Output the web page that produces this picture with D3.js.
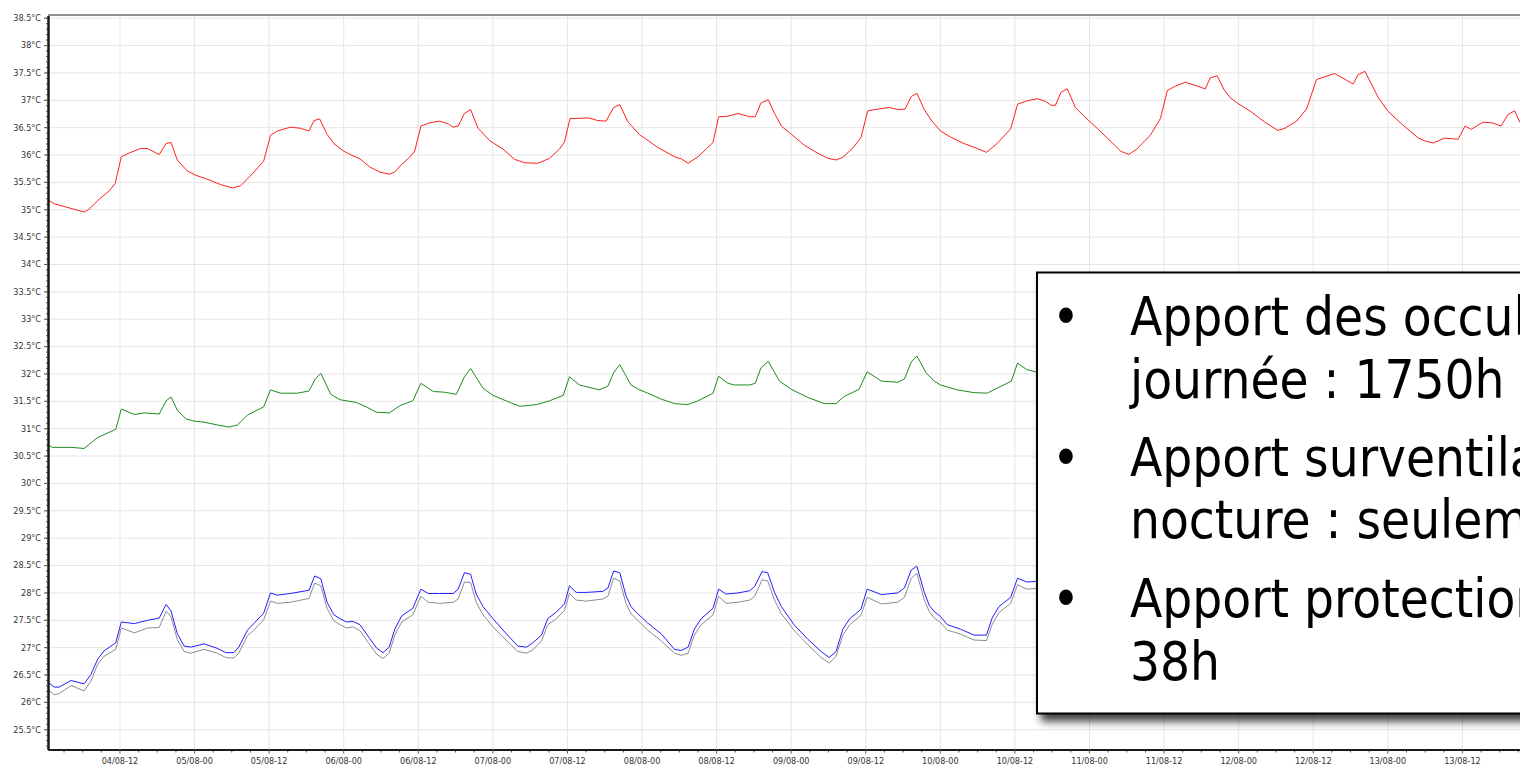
<!DOCTYPE html>
<meta charset="utf-8">
<style>
body { margin: 0; background: #fff; }
svg { display: block; background: #fff; }
.axis text { font: 9px "DejaVu Sans Condensed", "DejaVu Sans", sans-serif; fill: #333; }
.axis .domain { stroke: #1a1a1a; stroke-width: 2px; }
.axis line { stroke: #555; }
.grid line { stroke: #e6e6e6; stroke-width: 1px; }
.grid .domain { display: none; }
.serie { fill: none; stroke-width: 1px; }
.note text { font-family: "DejaVu Sans Condensed", "DejaVu Sans", sans-serif; font-size: 52.5px; fill: #000; }
</style>
<body>
<svg id="chart" width="1520" height="769"></svg>
<script src="https://d3js.org/d3.v7.min.js"></script>
<script>
// hours since 04/08 00:00, temperature in °C
var red = [[0.4,35.18],[1.5,35.1],[6.3,34.95],[7.1,35.0],[8.7,35.18],[10.3,35.33],[11.3,35.47],[12.3,35.96],[13.6,36.03],[15.4,36.11],[16.5,36.11],[18.4,36.0],[19.5,36.2],[20.3,36.22],[21.3,35.9],[22.9,35.7],[24.3,35.62],[26.1,35.55],[28.3,35.45],[30.2,35.39],[31.5,35.43],[33.4,35.65],[35.2,35.88],[36.3,36.35],[37.4,36.43],[39.5,36.5],[41.1,36.48],[42.5,36.43],[43.3,36.62],[44.2,36.65],[45.4,36.37],[46.5,36.2],[48.1,36.06],
  [49.1,36.0],[50.7,35.92],[52.3,35.77],[53.9,35.68],[55.4,35.64],[56.3,35.68],[57.4,35.82],[58.7,35.95],[59.5,36.06],[60.5,36.52],[61.9,36.58],[63.5,36.61],[64.9,36.56],[65.7,36.5],[66.5,36.52],[67.5,36.75],[68.5,36.82],[69.7,36.48],[71.6,36.25],[73.7,36.1],[75.6,35.91],[77.2,35.85],[79.3,35.84],[81.2,35.93],[82.8,36.1],[83.6,36.23],[84.5,36.66],[86.0,36.66],[87.4,36.67],[89.0,36.62],[90.3,36.61],[91.5,36.86],[92.5,36.91],[93.8,36.6],[95.7,36.36],
  [96.5,36.3],[98.6,36.13],[101.3,35.96],[102.4,35.92],[103.5,35.84],[105.1,35.96],[107.5,36.22],[108.4,36.69],[109.9,36.7],[111.5,36.75],[113.4,36.69],[114.3,36.69],[115.2,36.94],[116.4,37.0],[117.4,36.75],[118.5,36.52],[120.1,36.37],[122.2,36.17],[124.4,36.02],[126.0,35.93],[127.3,35.9],[128.4,35.95],[130.0,36.12],[131.3,36.31],[132.4,36.8],[134.0,36.83],[135.9,36.86],[137.2,36.82],[138.4,36.83],[139.4,37.06],[140.3,37.12],[141.5,36.82],[142.6,36.63],
  [144.1,36.43],[145.7,36.32],[147.9,36.2],[150.0,36.11],[151.5,36.04],[153.2,36.2],[155.4,36.47],[156.5,36.92],[158.0,36.98],[159.7,37.02],[161.0,36.97],[161.9,36.9],[162.6,36.9],[163.5,37.14],[164.5,37.2],[165.8,36.86],[167.2,36.7],[169.3,36.48],[171.5,36.24],[173.1,36.06],[174.4,36.0],[175.7,36.1],[177.9,36.36],[179.5,36.66],[180.6,37.17],[181.9,37.25],[183.5,37.32],[185.4,37.25],[186.7,37.2],[187.5,37.4],[188.6,37.44],[189.7,37.19],
  [190.7,37.04],[192.0,36.93],[194.1,36.78],[196.3,36.59],[198.4,36.44],[199.5,36.48],[201.4,36.61],[203.0,36.83],[204.6,37.37],[207.5,37.48],[210.5,37.29],[211.3,37.46],[212.4,37.52],[214.5,37.05],[216.1,36.79],[218.3,36.56],[221.0,36.3],[222.0,36.25],[223.4,36.21],[225.2,36.3],[227.4,36.28],[228.5,36.52],[229.5,36.46],[231.4,36.59],[232.8,36.58],[234.3,36.52],[235.4,36.73],[236.5,36.8],[237.3,36.59]];

var green = [[0.4,30.7],[1.2,30.65],[4.2,30.65],[6.3,30.63],[8.5,30.83],[11.4,30.98],[12.3,31.35],[14.4,31.25],[16.0,31.28],[18.4,31.26],[19.5,31.5],[20.3,31.57],[21.3,31.33],[22.7,31.17],[24.0,31.13],[25.6,31.11],[27.7,31.06],[29.6,31.02],[31.0,31.06],[32.6,31.24],[35.2,31.39],[36.3,31.7],[37.9,31.64],[40.6,31.64],[42.5,31.68],[43.5,31.9],[44.4,32.0],[46.0,31.62],
  [47.5,31.52],[50.1,31.47],[51.7,31.39],[53.4,31.29],[55.4,31.28],[57.1,31.41],[59.2,31.5],[60.5,31.82],[62.5,31.67],[64.1,31.66],[66.2,31.62],[67.5,31.94],[68.5,32.09],[70.5,31.73],[72.1,31.6],[74.2,31.5],[76.4,31.4],[79.1,31.43],[81.2,31.5],[83.4,31.6],[84.4,31.94],[86.0,31.79],[89.2,31.7],[90.6,31.77],[91.5,32.01],[92.5,32.16],[94.3,31.79],
  [95.7,31.7],[97.0,31.64],[99.2,31.53],[101.3,31.45],[103.3,31.43],[105.1,31.5],[107.5,31.64],[108.4,31.95],[109.9,31.82],[111.0,31.79],[113.4,31.79],[114.3,31.82],[115.2,32.1],[116.4,32.22],[118.2,31.86],[120.1,31.71],[122.8,31.56],[125.4,31.45],[127.3,31.45],[128.6,31.58],[131.0,31.71],[132.3,32.03],[134.6,31.86],[137.2,31.84],[138.3,31.9],[139.4,32.21],[140.3,32.32],[141.8,32.01],[143.1,31.86],
  [144.1,31.79],[146.8,31.7],[149.5,31.65],[151.6,31.64],[153.2,31.73],[155.5,31.86],[156.5,32.19],[158.0,32.07],[159.4,32.03],[160.5,31.98]];

var blue = [[0.4,26.37],[1.5,26.27],[2.3,26.27],[4.2,26.39],[6.3,26.33],[7.4,26.5],[8.5,26.78],[9.5,26.93],[11.4,27.08],[12.3,27.46],[14.4,27.43],[16.5,27.49],[18.4,27.53],[19.5,27.78],[20.3,27.66],[21.3,27.25],[22.4,27.02],[23.5,27.0],[25.6,27.06],[27.7,26.98],[29.1,26.9],[30.4,26.9],[31.2,27.0],[32.6,27.31],[33.6,27.43],[35.2,27.62],[36.3,27.99],[37.4,27.95],[39.5,27.98],[42.5,28.04],[43.4,28.3],[44.4,28.25],[45.4,27.82],[46.5,27.59],
  [47.5,27.52],[48.5,27.46],[49.6,27.47],[50.7,27.41],[52.3,27.15],[53.4,26.98],[54.4,26.9],[55.4,27.0],[56.3,27.33],[57.4,27.57],[59.2,27.71],[60.5,28.06],[61.7,27.98],[63.5,27.98],[65.7,27.98],[66.5,28.06],[67.5,28.36],[68.5,28.33],[69.4,27.97],[70.5,27.74],[72.1,27.52],[74.2,27.25],[76.1,27.02],[77.5,27.0],[78.5,27.08],[79.9,27.22],[80.9,27.52],[82.3,27.64],[83.6,27.79],[84.4,28.12],[85.5,28.0],[87.1,28.0],[89.8,28.02],[90.6,28.08],[91.5,28.39],[92.5,28.36],[93.5,27.94],[94.3,27.74],
  [95.3,27.62],[97.0,27.44],[99.2,27.24],[101.3,26.96],[102.4,26.94],[103.5,27.0],[104.5,27.33],[105.6,27.52],[107.5,27.71],[108.4,28.06],[109.6,27.97],[111.5,27.99],[113.4,28.03],[114.2,28.11],[115.4,28.38],[116.3,28.36],[117.4,28.0],[118.5,27.74],[120.6,27.4],[122.8,27.14],[124.9,26.92],[126.2,26.81],[127.3,26.92],[128.4,27.33],[129.5,27.52],[131.3,27.69],[132.3,28.06],[134.6,27.96],[137.2,27.99],[138.3,28.08],[139.4,28.41],[140.3,28.48],[141.5,28.0],[142.3,27.76],[143.1,27.65],
  [144.1,27.56],[145.2,27.41],[147.3,27.33],[149.5,27.22],[151.5,27.22],[152.4,27.53],[153.5,27.74],[155.4,27.91],[156.5,28.26],[158.0,28.19],[159.4,28.2],[160.5,28.18]];

var gray = [[0.4,26.24],[1.5,26.13],[2.3,26.15],[4.2,26.3],[6.3,26.2],[7.4,26.38],[8.5,26.69],[9.5,26.83],[11.4,26.96],[12.3,27.35],[14.4,27.26],[16.5,27.35],[18.4,27.36],[19.5,27.66],[20.3,27.55],[21.3,27.14],[22.4,26.92],[23.5,26.89],[25.6,26.96],[27.7,26.89],[29.1,26.81],[30.4,26.8],[31.2,26.89],[32.6,27.21],[33.6,27.31],[35.2,27.5],[36.3,27.84],[37.4,27.8],[39.5,27.82],[42.5,27.89],[43.4,28.17],[44.4,28.12],[45.4,27.71],[46.5,27.48],
  [47.5,27.41],[48.5,27.35],[49.6,27.37],[50.7,27.3],[52.3,27.04],[53.4,26.87],[54.4,26.79],[55.4,26.89],[56.3,27.22],[57.4,27.46],[59.2,27.59],[60.5,27.93],[61.7,27.82],[63.5,27.8],[65.7,27.82],[66.5,27.88],[67.5,28.19],[68.5,28.18],[69.4,27.82],[70.5,27.59],[72.1,27.37],[74.2,27.13],[76.1,26.92],[77.5,26.89],[78.5,26.95],[79.9,27.11],[80.9,27.41],[82.3,27.52],[83.6,27.67],[84.4,27.98],[85.5,27.86],[87.1,27.84],[89.8,27.88],[90.6,27.93],[91.5,28.26],[92.5,28.21],[93.5,27.8],[94.3,27.61],
  [95.3,27.5],[97.0,27.31],[99.2,27.11],[101.3,26.89],[102.4,26.85],[103.5,26.89],[104.5,27.22],[105.6,27.41],[107.5,27.59],[108.4,27.93],[109.6,27.8],[111.5,27.82],[113.4,27.86],[114.2,27.93],[115.4,28.23],[116.3,28.21],[117.4,27.86],[118.5,27.61],[120.6,27.3],[122.8,27.04],[124.9,26.81],[126.2,26.71],[127.3,26.83],[128.4,27.22],[129.5,27.41],[131.3,27.58],[132.3,27.91],[134.6,27.79],[137.2,27.82],[138.3,27.91],[139.4,28.26],[140.3,28.35],[141.5,27.86],[142.3,27.65],[143.1,27.53],
  [144.1,27.45],[145.2,27.31],[147.3,27.24],[149.5,27.13],[151.5,27.12],[152.4,27.41],[153.5,27.63],[155.4,27.8],[156.5,28.14],[158.0,28.06],[159.4,28.07],[160.5,28.05]];

var series = [
  { name: "gray", color: "#8c8c8c", values: gray },
  { name: "blue", color: "#1f1fff", values: blue },
  { name: "green", color: "#1e8c1e", values: green },
  { name: "red", color: "#ff2020", values: red }
];

var yTicks = d3.range(25.5, 38.51, 0.5);
var yMinor = d3.range(25.2, 38.55, 0.1);

var noteLines = ["Apport des occultations en", "journée : 1750h", "Apport surventilation", "nocture : seulement", "Apport protection solaire :", "38h"];
var noteBullets = [0, 2, 4];

var t0 = new Date(2012, 7, 4, 0, 0);
function at(h) { return new Date(t0.getTime() + h * 36e5); }

var svg = d3.select("#chart"),
    pLeft = 48, pTop = 15.5, pBottom = 749.5, pRight = 1536.5;

var x = d3.scaleTime().domain([at(0.5), at(240)]).range([pLeft, pRight]);
var y = d3.scaleLinear().domain([25.13, 38.54]).range([pBottom, pTop]);

// only the labels that fit in the window
var xMajor = x.ticks(d3.timeHour.every(12)).filter(function(d) { return d < at(236); });
var xMinor = x.ticks(d3.timeHour.every(3)).filter(function(d) { return d.getHours() % 12; });

// grid
svg.append("g").attr("class", "grid")
    .attr("transform", "translate(0," + pBottom + ")")
    .call(d3.axisBottom(x).tickValues(xMajor).tickSize(-(pBottom - pTop)).tickFormat(""));
svg.append("g").attr("class", "grid")
    .attr("transform", "translate(" + pLeft + ",0)")
    .call(d3.axisLeft(y).tickValues(yTicks).tickSize(-(pRight - pLeft)).tickFormat(""));

// series
svg.append("clipPath").attr("id", "plot")
  .append("rect").attr("x", pLeft).attr("y", pTop).attr("width", pRight - pLeft).attr("height", pBottom - pTop);

var line = d3.line()
    .x(function(d) { return x(at(d[0])); })
    .y(function(d) { return y(d[1]); });

svg.append("g").attr("clip-path", "url(#plot)")
  .selectAll("path").data(series).enter().append("path")
    .attr("class", "serie")
    .attr("stroke", function(d) { return d.color; })
    .attr("d", function(d) { return line(d.values); });

// axes
svg.append("g").attr("class", "axis")
    .attr("transform", "translate(0," + pBottom + ")")
    .call(d3.axisBottom(x).tickValues(xMinor).tickSize(3).tickSizeOuter(0).tickFormat(""));
svg.append("g").attr("class", "axis")
    .attr("transform", "translate(0," + pBottom + ")")
    .call(d3.axisBottom(x).tickValues(xMajor).tickSize(4).tickPadding(4).tickSizeOuter(0)
      .tickFormat(d3.timeFormat("%d/%m-%H")));

svg.append("g").attr("class", "axis")
    .attr("transform", "translate(" + pLeft + ",0)")
    .call(d3.axisLeft(y).tickValues(yMinor).tickSize(2).tickSizeOuter(0).tickFormat(""));
svg.append("g").attr("class", "axis")
    .attr("transform", "translate(" + pLeft + ",0)")
    .call(d3.axisLeft(y).tickValues(yTicks).tickSize(4).tickPadding(3).tickSizeOuter(0)
      .tickFormat(function(d) { return d3.format("~g")(d) + "°C"; }));

svg.append("line").attr("x1", pLeft).attr("x2", pRight).attr("y1", pTop - 0.5).attr("y2", pTop - 0.5)
    .attr("stroke", "#222").attr("stroke-width", 1);

// text box over the chart
var defs = svg.append("defs");
defs.append("filter").attr("id", "shadow").attr("x", "-10%").attr("y", "-10%").attr("width", "130%").attr("height", "130%")
  .append("feDropShadow").attr("dx", 5).attr("dy", 7).attr("stdDeviation", 4)
    .attr("flood-color", "#000").attr("flood-opacity", 0.75);

var note = svg.append("g").attr("class", "note");
note.append("rect")
    .attr("x", 1037).attr("y", 272.5).attr("width", 620).attr("height", 441)
    .attr("fill", "#fff").attr("stroke", "#000").attr("stroke-width", 2)
    .attr("filter", "url(#shadow)");

var baselines = [335, 398, 476, 538, 617, 680];
note.selectAll("text.line").data(noteLines).enter().append("text")
    .attr("class", "line")
    .attr("x", 1130)
    .attr("y", function(d, i) { return baselines[i]; })
    .text(function(d) { return d; });
note.selectAll("text.bullet").data(noteBullets).enter().append("text")
    .attr("class", "bullet")
    .attr("x", 1066).attr("text-anchor", "middle")
    .attr("y", function(i) { return baselines[i]; })
    .text("•");
</script>
</body>
